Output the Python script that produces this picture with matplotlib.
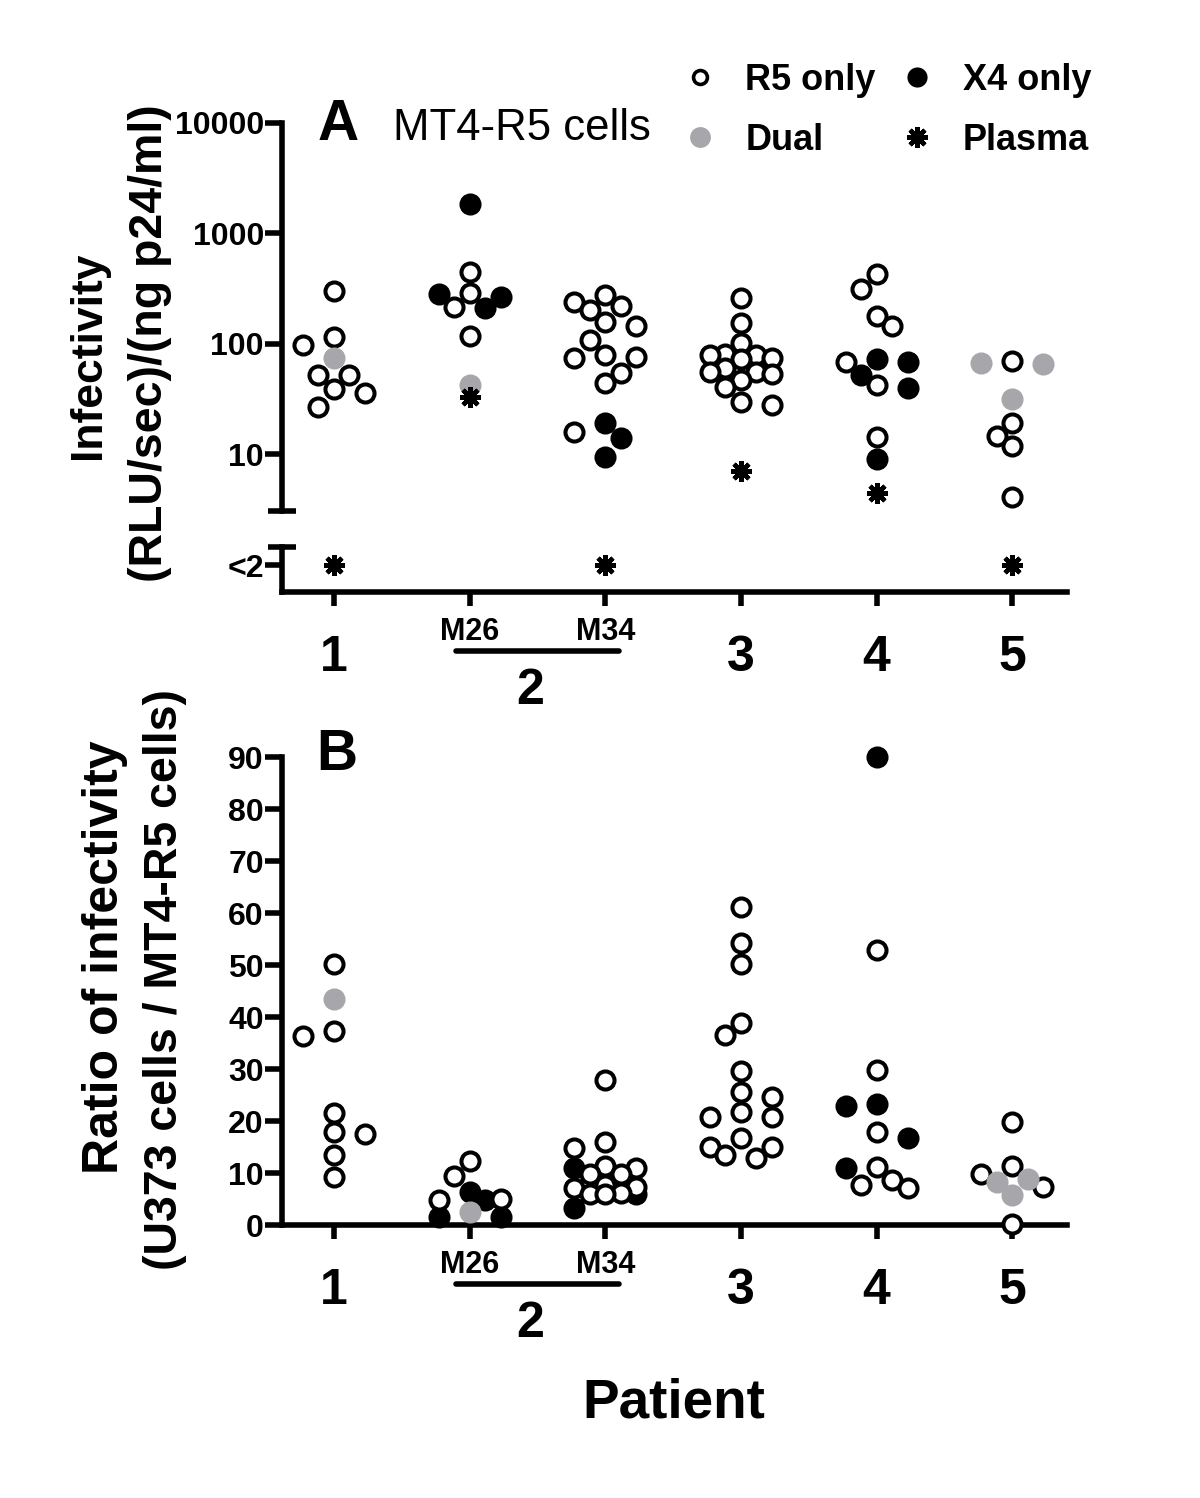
import numpy as np
import matplotlib
matplotlib.use("Agg")
import matplotlib.pyplot as plt
from matplotlib.lines import Line2D
from matplotlib.ticker import NullFormatter
from matplotlib.transforms import ScaledTranslation

plt.rcParams['font.family'] = ['Liberation Sans', 'DejaVu Sans']
plt.rcParams['font.weight'] = 'bold'

# x categories (patient 2 was sampled twice: M26 and M34)
groups = ["1", "M26", "M34", "3", "4", "5"]

# Panel A: infectivity on MT4-R5 cells, (RLU/sec)/(ng p24/ml)
a_r5 = [[302, 116, 98, 52, 52, 39, 36, 27],
        [449, 290, 215, 118],
        [277, 240, 221, 203, 158, 146, 109, 80, 76, 75, 55, 44, 16],
        [261, 155, 102, 81, 80, 79, 75, 73, 61, 56, 56, 54, 47, 41, 30, 28],
        [430, 315, 179, 146, 69, 42.6, 14.4],
        [70, 19.3, 14.7, 11.9, 4.1]]
a_x4 = [[], [1850, 285, 266, 212], [19.3, 14.1, 9.5], [], [73, 69, 52, 40, 9.1], []]
a_dual = [[75], [42.6], [], [], [], [67, 66, 32]]
# None = below detection limit (<2)
a_plasma = [None, 33, None, 7.1, 4.5, None]

# Panel B: ratio of infectivity (U373 / MT4-R5)
b_r5 = [[50.2, 37.3, 36.3, 21.5, 17.9, 17.5, 13.5, 9.2],
        [12.3, 9.4, 5.0, 4.8],
        [27.9, 16.0, 14.8, 11.4, 10.9, 9.9, 9.9, 7.7, 7.3, 7.1, 6.2, 6.0, 6.0],
        [61.2, 54.2, 50.2, 38.8, 36.5, 29.6, 25.6, 24.6, 21.7, 20.8, 20.8, 16.7, 15.0, 15.0, 13.5, 12.9],
        [52.9, 29.8, 17.9, 11.2, 8.7, 7.7, 7.1],
        [19.8, 11.3, 9.9, 7.4, 0.2]]
b_x4 = [[], [6.3, 4.8, 1.5, 1.5], [10.9, 6.0, 3.3], [], [90, 23.2, 22.9, 16.7, 10.9], []]
b_dual = [[43.5], [2.5], [], [], [], [8.8, 8.3, 5.7]]

GRAY = '#a7a7ab'
LW = 4

styles = {
    'x4': dict(marker='o', ms=13, mfc='black', mec='black', mew=2.9, zorder=3),
    'r5': dict(marker='o', ms=13, mfc='white', mec='black', mew=2.9, zorder=4),
    'dual': dict(marker='o', ms=13, mfc=GRAY, mec=GRAY, mew=2.9, zorder=5),
}
plasma_style = dict(marker=(8, 2, 0), ms=15, mec='black', mfc='black', mew=3.2, zorder=6)


def swarm(ax, pos, values, step_px=15.5, min_px=18, max_k=2):
    # small beeswarm in pixel space (max +-2 half-steps), returns x offsets in data units
    vals = np.asarray(values, dtype=float)
    pts = ax.transData.transform(np.column_stack([np.full(len(vals), pos), vals]))
    ys = pts[:, 1]
    unit = ax.transData.transform([(1, 1)])[0, 0] - ax.transData.transform([(0, 1)])[0, 0]
    offs = np.zeros(len(vals))
    placed = []
    left = right = 0
    for i in np.argsort(-vals, kind='stable'):
        cands = [0]
        for k in range(1, max_k + 1):
            cands += [-k, k] if left <= right else [k, -k]
        best_k, best_d = 0, -1.0
        for k in cands:
            dx = k * step_px
            d = min([np.hypot(dx - px, ys[i] - py) for px, py in placed] or [1e9])
            if d >= min_px:
                best_k = k
                break
            if d > best_d + 0.5:
                best_k, best_d = k, d
        k = best_k
        if k < 0:
            left += 1
        elif k > 0:
            right += 1
        placed.append((k * step_px, ys[i]))
        offs[i] = k * step_px / unit
    return offs


def draw_panel(ax, r5, x4, dual):
    for pos, (g_r5, g_x4, g_dual) in enumerate(zip(r5, x4, dual)):
        vals = list(g_r5) + list(g_x4) + list(g_dual)
        kinds = ['r5'] * len(g_r5) + ['x4'] * len(g_x4) + ['dual'] * len(g_dual)
        offs = swarm(ax, pos, vals)
        vals = np.array(vals, dtype=float)
        for kind in ['x4', 'r5', 'dual']:
            sel = [j for j, k in enumerate(kinds) if k == kind]
            if sel:
                ax.plot(pos + offs[sel], vals[sel], ls='none', clip_on=False, **styles[kind])


def x_labels(ax):
    fig = ax.figure
    tr = ax.get_xaxis_transform()
    for pos, lab in zip([0, 3, 4, 5], ["1", "3", "4", "5"]):
        ax.text(pos, 0, lab, transform=tr + ScaledTranslation(0, -0.66, fig.dpi_scale_trans),
                ha='center', va='center', fontsize=36)
    for pos, lab in zip([1, 2], ["M26", "M34"]):
        ax.text(pos, 0, lab, transform=tr + ScaledTranslation(0, -0.40, fig.dpi_scale_trans),
                ha='center', va='center', fontsize=22)
    ax.plot([0.9, 2.1], [0, 0], color='black', lw=LW, solid_capstyle='round', clip_on=False,
            transform=tr + ScaledTranslation(0, -0.59, fig.dpi_scale_trans))
    ax.text(1.45, 0, "2", transform=tr + ScaledTranslation(0, -0.99, fig.dpi_scale_trans),
            ha='center', va='center', fontsize=36)


def style_axes(ax):
    for s in ['top', 'right']:
        ax.spines[s].set_visible(False)
    for s in ['left', 'bottom']:
        ax.spines[s].set_linewidth(LW)
    ax.tick_params(axis='both', which='major', width=LW, length=12, pad=1, labelsize=23)
    ax.set_xlim(-0.383, 5.404)


fig = plt.figure(figsize=(12, 14.98), dpi=100)

# ---- Panel A (broken log axis) ----
ymin_a = 3.08
ax_a = fig.add_axes([0.235, 0.6589, 0.6542, 0.2590])
style_axes(ax_a)
ax_a.spines['bottom'].set_visible(False)
ax_a.set_yscale('log')
ax_a.set_ylim(ymin_a, 10000)
ax_a.set_yticks([10, 100, 1000, 10000], ["10", "100", "1000", "10000"])
ax_a.set_yticks([ymin_a], minor=True)
ax_a.yaxis.set_minor_formatter(NullFormatter())
ax_a.tick_params(axis='y', which='minor', direction='inout', length=20, width=LW)
ax_a.tick_params(axis='x', bottom=False, labelbottom=False)

ax_al = fig.add_axes([0.235, 0.6048, 0.6542, 0.0300])
style_axes(ax_al)
ax_al.set_ylim(0, 1)
ax_al.set_yticks([0.6], ["<2"])
ax_al.set_yticks([1.0], minor=True)
ax_al.tick_params(axis='y', which='minor', direction='inout', length=20, width=LW)
ax_al.set_xticks(range(len(groups)), [""] * len(groups))
ax_al.tick_params(axis='x', length=10)

draw_panel(ax_a, a_r5, a_x4, a_dual)
for pos, v in enumerate(a_plasma):
    if v is None:
        ax_al.plot(pos, 0.6, ls='none', clip_on=False, **plasma_style)
    else:
        ax_a.plot(pos, v, ls='none', clip_on=False, **plasma_style)
x_labels(ax_al)

fig.text(338 / 1200, 1 - 125 / 1498, "A", fontsize=41, ha='center', va='center')
fig.text(393 / 1200, 1 - 128 / 1498, "MT4-R5 cells", fontsize=31.5, fontweight='normal',
         ha='left', va='center')
fig.text(88 / 1200, 1 - 355 / 1498, "Infectivity", rotation=90, fontsize=32,
         ha='center', va='center')
fig.text(150 / 1200, 1 - 343 / 1498, "(RLU/sec)/(ng p24/ml)", rotation=90, fontsize=33.5,
         ha='center', va='center')

# ---- Panel B ----
ax_b = fig.add_axes([0.235, 0.1822, 0.6542, 0.3124])
style_axes(ax_b)
ax_b.set_ylim(0, 90)
ax_b.set_yticks(range(0, 100, 10))
ax_b.set_xticks(range(len(groups)), [""] * len(groups))
ax_b.tick_params(axis='x', length=10)
draw_panel(ax_b, b_r5, b_x4, b_dual)
x_labels(ax_b)

fig.text(337 / 1200, 1 - 755 / 1498, "B", fontsize=41, ha='center', va='center')
fig.text(105 / 1200, 1 - 957 / 1498, "Ratio of infectivity", rotation=90, fontsize=36,
         ha='center', va='center')
fig.text(165 / 1200, 1 - 980 / 1498, "(U373 cells / MT4-R5 cells)", rotation=90, fontsize=33.5,
         ha='center', va='center')
fig.text(674 / 1200, 1 - 1403 / 1498, "Patient", fontsize=39.5, ha='center', va='center')

# ---- legend ----
handles = [
    Line2D([], [], ls='none', marker='o', ms=10, mfc='white', mec='black', mew=2.6),
    Line2D([], [], ls='none', marker='o', ms=15, mfc=GRAY, mec=GRAY, mew=0),
    Line2D([], [], ls='none', marker='o', ms=14.5, mfc='black', mec='black', mew=0),
    Line2D([], [], ls='none', **{k: v for k, v in plasma_style.items() if k != 'zorder'}),
]
labels = ["R5 only", "Dual", "X4 only", "Plasma"]
fig.legend(handles, labels, loc='upper left', bbox_to_anchor=(682 / 1200, 1 - 63 / 1498),
           ncol=2, frameon=False, fontsize=26, handlelength=1.0, handletextpad=0.75,
           columnspacing=0.66, labelspacing=0.68, borderpad=0, borderaxespad=0)

fig.savefig("out.png", dpi=100)
